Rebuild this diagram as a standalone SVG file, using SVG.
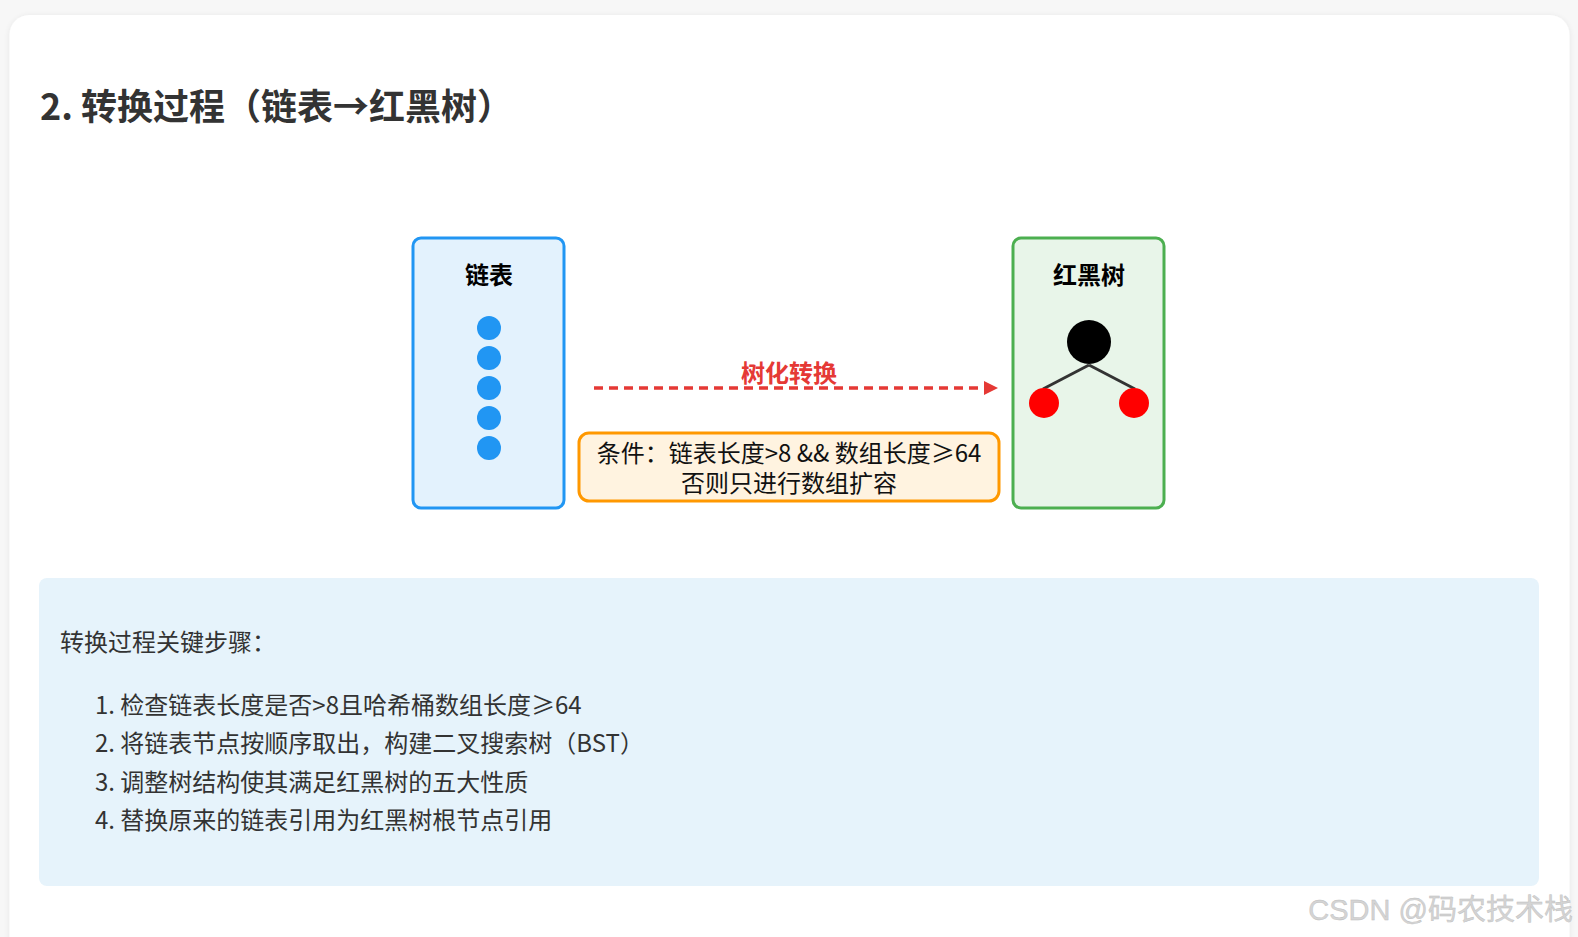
<svg xmlns="http://www.w3.org/2000/svg" width="1578" height="937" viewBox="0 0 1578 937">
<style>
text{font-family:"Noto Sans CJK SC","Noto Sans",sans-serif}
.title{font-size:36px;font-weight:700;fill:#333}
.lbl{font-size:24px;font-weight:700;fill:#000}
.cond{font-size:24px;fill:#111}
.step{font-size:24px;fill:#333}
.lnode{fill:#2196F3}
.wm{font-family:"Liberation Sans","Noto Sans CJK SC",sans-serif;font-size:29px;fill:#d4d4d4;stroke:#bdbdbd;stroke-width:0.4}
</style>
<defs>
<marker id="ah" markerWidth="14" markerHeight="14" refX="13" refY="7" orient="auto" markerUnits="userSpaceOnUse">
<path d="M0,0 L14,7 L0,14 Z" fill="#E53935"/>
</marker>
<filter id="sh" x="-5%" y="-5%" width="110%" height="110%">
<feGaussianBlur in="SourceAlpha" stdDeviation="3"/>
<feOffset dx="0" dy="1"/>
<feComponentTransfer><feFuncA type="linear" slope="0.08"/></feComponentTransfer>
<feMerge><feMergeNode/><feMergeNode in="SourceGraphic"/></feMerge>
</filter>
</defs>
<rect x="0" y="0" width="1578" height="937" fill="#f7f7f7"/>
<rect x="9.5" y="15" width="1560" height="960" rx="20" fill="#fff" filter="url(#sh)"/>
<text class="title" x="40" y="120">2. 转换过程（链表→红黑树）</text>

<g id="linkedlist">
<rect x="413" y="238" width="151" height="270" rx="8" fill="#E3F2FD" stroke="#2196F3" stroke-width="3"/>
<text class="lbl" x="489" y="284" text-anchor="middle">链表</text>
<circle class="lnode" cx="489" cy="328" r="12"/>
<circle class="lnode" cx="489" cy="358" r="12"/>
<circle class="lnode" cx="489" cy="388" r="12"/>
<circle class="lnode" cx="489" cy="418" r="12"/>
<circle class="lnode" cx="489" cy="448" r="12"/>
</g>

<g id="rbtree">
<rect x="1013" y="238" width="151" height="270" rx="8" fill="#E8F5E9" stroke="#4CAF50" stroke-width="3"/>
<text class="lbl" x="1089" y="284" text-anchor="middle">红黑树</text>
<line x1="1089" y1="365" x2="1043" y2="389" stroke="#333" stroke-width="3"/>
<line x1="1089" y1="365" x2="1135" y2="389" stroke="#333" stroke-width="3"/>
<circle cx="1089" cy="342" r="22" fill="#000"/>
<circle cx="1044" cy="403" r="15" fill="#f00"/>
<circle cx="1134" cy="403" r="15" fill="#f00"/>
</g>

<g id="connectors">
<line x1="594" y1="388" x2="997" y2="388" stroke="#E53935" stroke-width="3.5" stroke-dasharray="9,6" marker-end="url(#ah)"/>
<text x="789" y="382" text-anchor="middle" style="font-size:24px;font-weight:700;fill:#E53935">树化转换</text>
</g>

<g id="condition">
<rect x="579" y="433" width="420" height="68" rx="10" fill="#FFF3E0" stroke="#FF9800" stroke-width="3"/>
<text class="cond" x="789" y="462" text-anchor="middle">条件：链表长度&gt;8 &amp;&amp; 数组长度≥64</text>
<text class="cond" x="789" y="492" text-anchor="middle">否则只进行数组扩容</text>
</g>

<g id="steps">
<rect x="39" y="578" width="1500" height="308" rx="8" fill="#E6F3FB"/>
<text class="step" x="60" y="651">转换过程关键步骤：</text>
<text class="step" x="95" y="714">1. 检查链表长度是否&gt;8且哈希桶数组长度≥64</text>
<text class="step" x="95" y="752">2. 将链表节点按顺序取出，构建二叉搜索树（BST）</text>
<text class="step" x="95" y="791">3. 调整树结构使其满足红黑树的五大性质</text>
<text class="step" x="95" y="829">4. 替换原来的链表引用为红黑树根节点引用</text>
</g>

<text class="wm" x="1573" y="920" text-anchor="end">CSDN @码农技术栈</text>
</svg>
